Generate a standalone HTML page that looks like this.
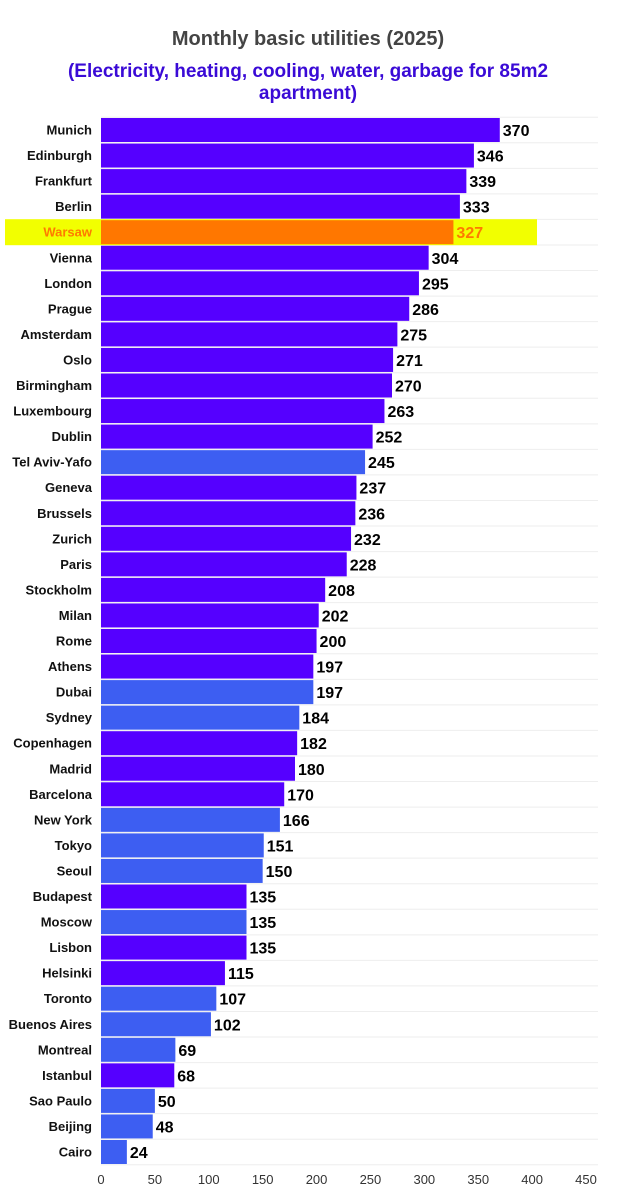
<!DOCTYPE html>
<html><head><meta charset="utf-8"><style>
body{margin:0;background:#fff;font-family:"Liberation Sans",sans-serif;}
#wrap{position:relative;width:617px;height:1200px;overflow:hidden;}
</style></head><body>
<div id="wrap">
<svg id="svg" width="617" height="1200" xmlns="http://www.w3.org/2000/svg">
<text x="308" y="45" text-anchor="middle" font-size="20" font-weight="bold" fill="#444">Monthly basic utilities (2025)</text>
<text x="308" y="77" text-anchor="middle" font-size="19" font-weight="bold" fill="#3a0ad6">(Electricity, heating, cooling, water, garbage for 85m2</text>
<text x="308" y="99" text-anchor="middle" font-size="19" font-weight="bold" fill="#3a0ad6">apartment)</text>
<g id="plot"></g>
</svg>
</div>
<script>
const cities=["Munich","Edinburgh","Frankfurt","Berlin","Warsaw","Vienna","London","Prague","Amsterdam","Oslo","Birmingham","Luxembourg","Dublin","Tel Aviv-Yafo","Geneva","Brussels","Zurich","Paris","Stockholm","Milan","Rome","Athens","Dubai","Sydney","Copenhagen","Madrid","Barcelona","New York","Tokyo","Seoul","Budapest","Moscow","Lisbon","Helsinki","Toronto","Buenos Aires","Montreal","Istanbul","Sao Paulo","Beijing","Cairo"];
const values=[370,346,339,333,327,304,295,286,275,271,270,263,252,245,237,236,232,228,208,202,200,197,197,184,182,180,170,166,151,150,135,135,135,115,107,102,69,68,50,48,24];
const groups=["eu","eu","eu","eu","pl","eu","eu","eu","eu","eu","eu","eu","eu","w","eu","eu","eu","eu","eu","eu","eu","eu","w","w","eu","eu","eu","w","w","w","eu","w","eu","eu","w","w","w","eu","w","w","w"];
const ticks=[0,50,100,150,200,250,300,350,400,450];
const NS="http://www.w3.org/2000/svg";
const g=document.getElementById('plot');
const x0=101,kx=485/450,y0=130,dy=25.55,bh=24;
const X=v=>x0+v*kx, Y=i=>y0+i*dy;
const col={eu:"#5500ff",w:"#3d5ef2",pl:"#ff7700"};
function mk(t,a){const e=document.createElementNS(NS,t);for(const k in a)e.setAttribute(k,a[k]);g.appendChild(e);return e;}
for(let i=0;i<=cities.length;i++){const l=mk('line',{x1:x0,x2:598,y1:Y(i)-dy/2,y2:Y(i)-dy/2,stroke:"#eee","stroke-width":1});

}
cities.forEach((c,i)=>{
 const y=Y(i);
 if(groups[i]==="pl"){const h=mk('rect',{x:5,y:y-13,width:532,height:26,fill:"#f2ff00"});
 
 }
 const r=mk('rect',{x:x0,y:y-bh/2,width:X(values[i])-x0,height:bh,fill:col[groups[i]]});
 
 
 const t=mk('text',{x:92,y:y+4.5,"text-anchor":"end","font-size":13,"font-weight":"bold",fill:groups[i]==="pl"?"#ff7a00":"#111"});
 t.textContent=c;
 
 
 const v=mk('text',{x:X(values[i])+3,y:y+6,"font-size":16,"font-weight":"bold",fill:groups[i]==="pl"?"#ff7a00":"#000"});
 v.textContent=values[i];
 
 
});
ticks.forEach(tk=>{const t=mk('text',{x:X(tk),y:1184,"text-anchor":"middle","font-size":13,fill:"#333"});
t.textContent=tk;

});
</script>
</body></html>
